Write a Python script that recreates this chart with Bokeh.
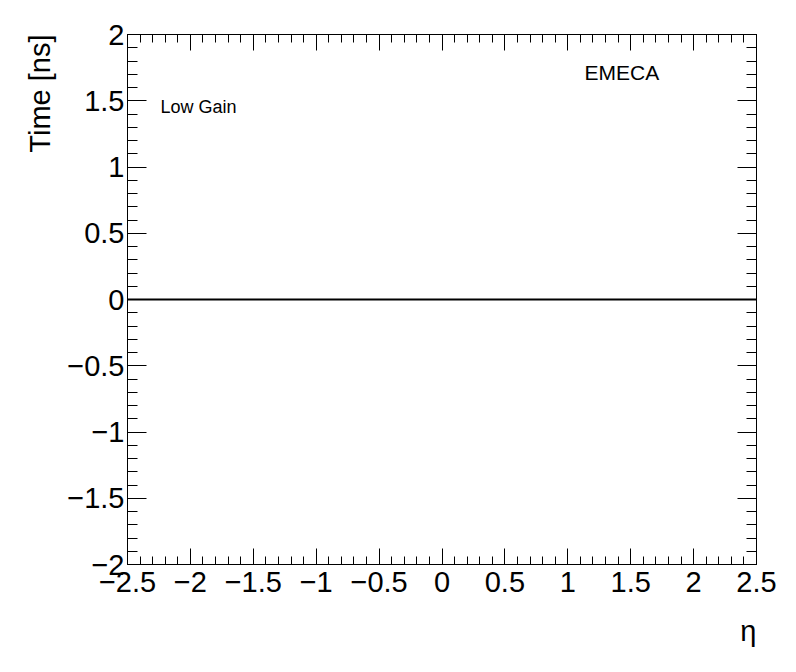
import numpy as np
from bokeh.plotting import figure
from bokeh.models import Range1d, LinearAxis, FixedTicker, Label, Title
from bokeh.embed import file_html
from bokeh.resources import INLINE

# data
eta = [-2.5, 2.5]
time_ns = [0.0, 0.0]

x_ticks = [-2.5, -2.0, -1.5, -1.0, -0.5, 0.0, 0.5, 1.0, 1.5, 2.0, 2.5]
x_tick_labels = ["\u22122.5", "\u22122", "\u22121.5", "\u22121", "\u22120.5", "0", "0.5", "1", "1.5", "2", "2.5"]
y_ticks = [-2.0, -1.5, -1.0, -0.5, 0.0, 0.5, 1.0, 1.5, 2.0]
y_tick_labels = ["\u22122", "\u22121.5", "\u22121", "\u22120.5", "0", "0.5", "1", "1.5", "2"]
x_title = "\u03b7"
y_title = "Time [ns]"
region_text = "EMECA"
gain_text = "Low Gain"

FONT = "Liberation Sans"

W, H = 780, 664
p = figure(width=W, height=H, output_backend="svg", toolbar_location=None,
           x_range=Range1d(-2.5, 2.5), y_range=Range1d(-2, 2),
           x_axis_location=None, y_axis_location=None,
           min_border_left=127, min_border_right=24,
           min_border_top=34, min_border_bottom=100)
p.grid.visible = False
p.outline_line_color = "black"
p.outline_line_width = 1
p.background_fill_color = "white"
p.border_fill_color = "white"

x_minor = list(np.round(np.arange(-2.5, 2.5001, 0.1), 3))
y_minor = list(np.round(np.arange(-2.0, 2.0001, 0.1), 3))


def make_axis(ticks, labels, minor, show_labels, tick_major, tick_minor):
    ax = LinearAxis(ticker=FixedTicker(ticks=ticks, minor_ticks=minor))
    ax.major_tick_in = tick_major
    ax.major_tick_out = 0
    ax.minor_tick_in = tick_minor
    ax.minor_tick_out = 0
    ax.axis_line_color = "black"
    ax.major_tick_line_color = "black"
    ax.minor_tick_line_color = "black"
    ax.major_label_text_font = FONT
    ax.major_label_text_font_size = "29px"
    ax.major_label_text_color = "black"
    if show_labels:
        ax.major_label_overrides = {t: l for t, l in zip(ticks, labels)}
    else:
        ax.major_label_text_font_size = "0px"
        ax.major_label_text_alpha = 0
    return ax


bx = make_axis(x_ticks, x_tick_labels, x_minor, True, 16, 8)
bx.major_label_standoff = 7
p.add_layout(bx, "below")
tx = make_axis(x_ticks, x_tick_labels, x_minor, False, 16, 8)
tx.major_label_standoff = 0
p.add_layout(tx, "above")
ly = make_axis(y_ticks, y_tick_labels, y_minor, True, 19, 10)
ly.major_label_standoff = 3
p.add_layout(ly, "left")
ry = make_axis(y_ticks, y_tick_labels, y_minor, False, 19, 10)
ry.major_label_standoff = 0
p.add_layout(ry, "right")

p.line(eta, time_ns, line_color="black", line_width=2)

p.add_layout(Title(text=y_title, align="right", text_font=FONT,
                   text_font_size="29px", text_font_style="normal",
                   text_color="black", standoff=17), "left")
p.add_layout(Title(text=x_title, align="right", text_font=FONT,
                   text_font_size="29px", text_font_style="normal",
                   text_color="black", standoff=36), "below")

p.add_layout(Label(x=1.133, y=1.713, text=region_text,
                   text_align="left", text_baseline="alphabetic",
                   text_font=FONT, text_font_size="21px", text_color="black"))
p.add_layout(Label(x=-2.238, y=1.456, text=gain_text,
                   text_align="left", text_baseline="alphabetic",
                   text_font=FONT, text_font_size="18px", text_color="black"))

open("out.html", "w").write(file_html(p, INLINE))
